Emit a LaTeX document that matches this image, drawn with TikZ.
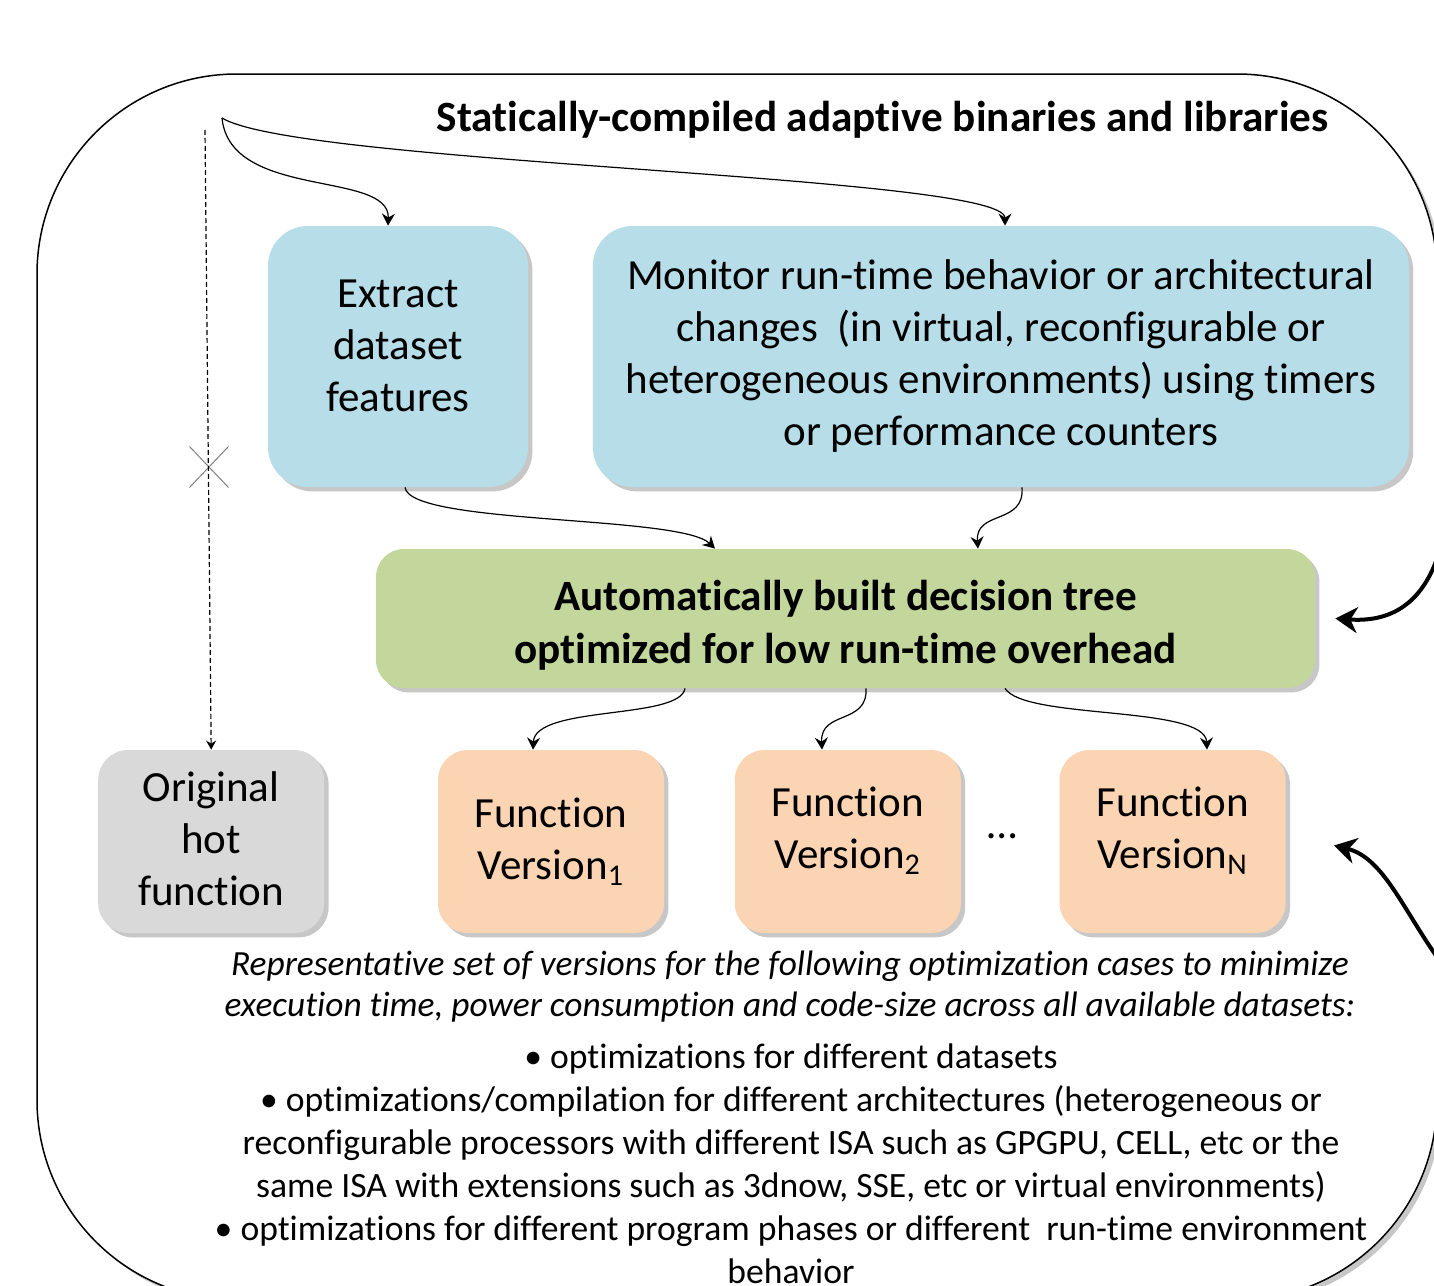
\documentclass[tikz,border=0pt]{standalone}
\usepackage{fontspec}
\setmainfont{Carlito}[Ligatures=NoCommon]
\usetikzlibrary{positioning,shadows,arrows.meta,shapes.misc}

\definecolor{featblue}{RGB}{183,221,232}
\definecolor{treegreen}{RGB}{195,214,155}
\definecolor{origgray}{RGB}{217,217,217}
\definecolor{verpeach}{RGB}{251,212,180}

\tikzset{
	softshadow/.style={drop shadow={shadow xshift=2.2pt, shadow yshift=-2.2pt, fill=black, opacity=0.22}},
	boxtext/.style={align=center, font=\fontsize{21.5}{26}\selectfont},
	featbox/.style={fill=featblue, rounded corners=20pt, minimum height=130.5pt, boxtext, softshadow},
	treebox/.style={fill=treegreen, rounded corners=14pt, minimum width=469.5pt, minimum height=69.5pt, softshadow},
	verbox/.style={fill=verpeach, rounded corners=15pt, minimum width=113pt, minimum height=91.5pt, boxtext, softshadow},
	origbox/.style={verbox, fill=origgray},
	link/.style={line width=0.6pt, -{Stealth[length=6pt, width=6.5pt, inset=2pt]}},
	bold link/.style={line width=2pt, -{Stealth[length=11pt, width=13pt, inset=3.5pt]}},
}

\begin{document}
\begin{tikzpicture}[x=0.5pt,y=-0.5pt]

	\useasboundingbox (0,0) rectangle (1434,1285);
	\clip (0,0) rectangle (1434,1285);

	\draw[line width=0.75pt, rounded corners=100pt, fill=white, softshadow] (37,74) rectangle (1437,1300);

	\node[font=\fontsize{21.6}{24}\selectfont\bfseries] (title) at (882.5,120) {Statically-compiled adaptive binaries and libraries};

	\node[featbox, minimum width=130pt, label={[boxtext, yshift=5.5pt]center:Extract\\dataset\\features}] (feat) at (398,356.5) {};
	\node[featbox, minimum width=408pt, right=32pt of feat] (mon) {Monitor run-time behavior or architectural\\changes~ (in virtual, reconfigurable or\\heterogeneous environments) using timers\\or performance counters};
	\node[treebox, label={[boxtext, font=\fontsize{21.6}{26.5}\selectfont\bfseries, yshift=-3.5pt]center:Automatically built decision tree\\optimized for low run-time overhead}] (tree) at (845.5,618.5) {};

	\node[verbox] (v1) at (551,841.5) {Function\\Version\textsubscript{1}};
	\node[verbox, right=35pt of v1, label={[boxtext, yshift=5.5pt]center:Function\\Version\textsubscript{2}}] (v2) {};
	\node[verbox, right=49pt of v2, label={[boxtext, yshift=5.5pt]center:Function\\Version\textsubscript{N}}] (vn) {};
	\node[boxtext] (dots) at (1002,836) {\ldots};
	\node[origbox, left=56.5pt of v1, label={[boxtext, yshift=1.5pt]center:Original\\hot\\function}] (orig) {};

	\node[align=center, font=\fontsize{17.7}{20.5}\selectfont\itshape] (cases) at (790,987) {Representative set of versions for the following optimization cases to minimize\\execution time, power consumption and code-size across all available datasets:};
	\node[align=center, font=\fontsize{17.8}{21.5}\selectfont] (opts) at (791,1164) {\textbullet\ optimizations for different datasets\\\textbullet\ optimizations/compilation for different architectures (heterogeneous or\\reconfigurable processors with different ISA such as GPGPU, CELL, etc or the\\same ISA with extensions such as 3dnow, SSE, etc or virtual environments)\\\textbullet\ optimizations for different program phases or different~ run-time environment\\behavior};

	\coordinate (src) at (222,118);
	\coordinate (bypass) at (205,130);
	\coordinate (ext1) at (1445,528);
	\coordinate (ext2) at (1445,968);
	\node[draw=gray, cross out, line width=0.5pt, minimum width=19pt, minimum height=20pt, inner sep=0pt] (blk) at (209,467) {};

	\draw[link] (src) .. controls (230,200) and (390,170) .. (feat.north -| 388,0);
	\draw[link] (src) .. controls (300,165) and (1005,175) .. (mon.north -| 1005,0);
	\draw[line width=0.6pt, dash pattern=on 2.5pt off 1.5pt, -{Stealth[length=4.5pt, width=5pt]}] (bypass) -- (orig.north);
	\draw[link] (feat.south -| 405,0) .. controls (410,525) and (680,515) .. (tree.north -| 715,0);
	\draw[link] (mon.south -| 1022,0) .. controls (1025,525) and (975,510) .. (tree.north -| 978,0);
	\draw[link] (tree.south -| 685,0) .. controls (680,720) and (535,705) .. (v1.north -| 533,0);
	\draw[link] (tree.south -| 866,0) .. controls (868,725) and (820,710) .. (v2.north -| 822,0);
	\draw[link] (tree.south -| 1005,0) .. controls (1025,720) and (1205,705) .. (vn.north -| 1207,0);
	\draw[bold link] (ext1) .. controls (1430,610) and (1385,622) .. ([xshift=10pt]tree.east);
	\draw[bold link] (ext2) .. controls (1405,915) and (1385,858) .. ([xshift=24pt,yshift=-2pt]vn.east);

\end{tikzpicture}
\end{document}
